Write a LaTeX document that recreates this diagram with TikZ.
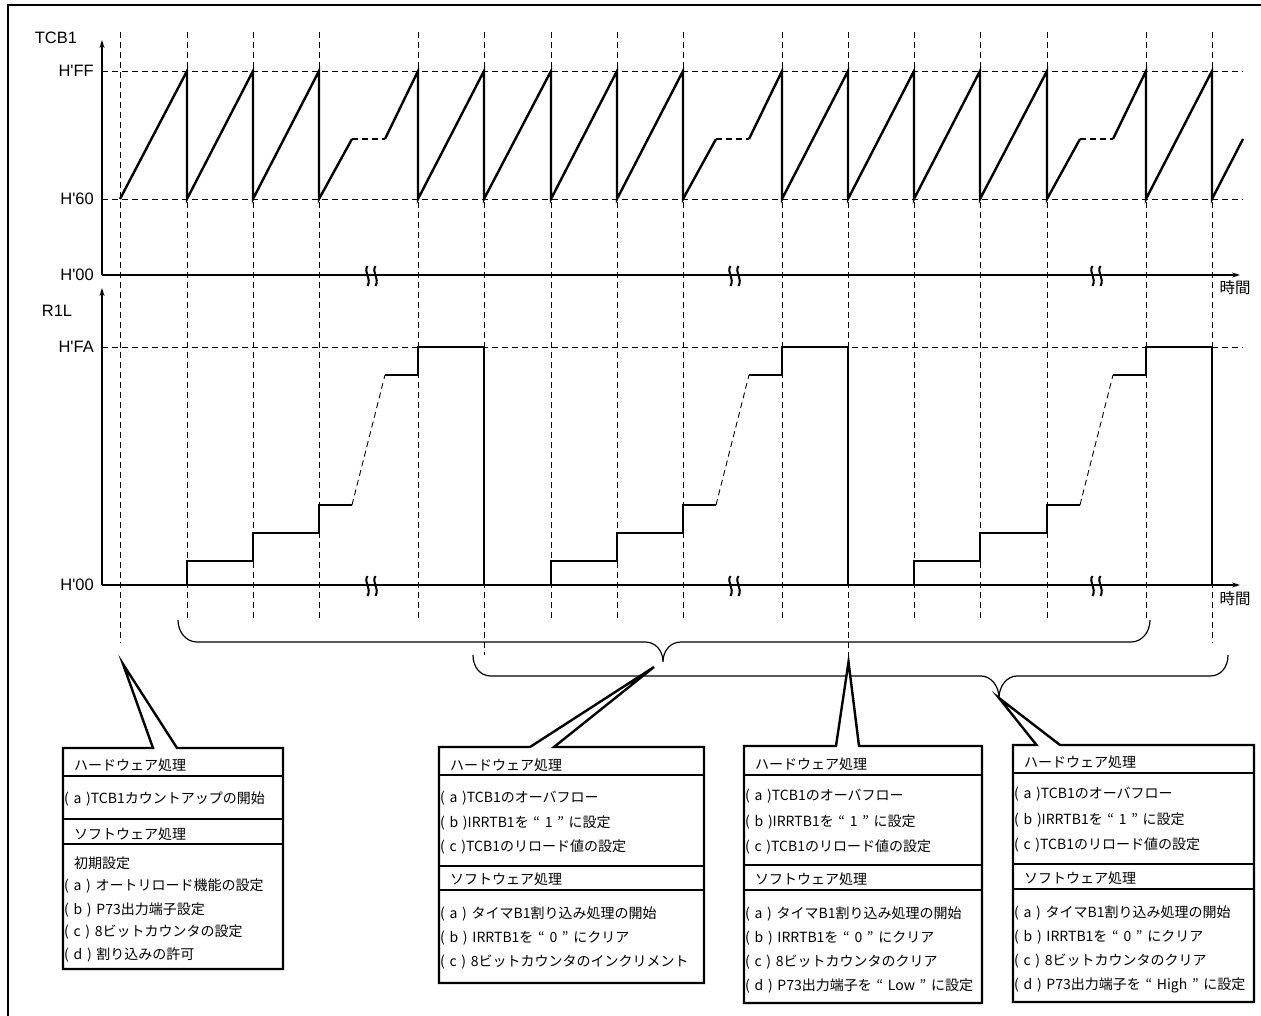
\documentclass[tikz,border=0pt]{standalone}
\usepackage{fontspec}
\setmainfont{Liberation Sans}
\newfontfamily\jp[WordSpace=1.5]{Noto Sans CJK JP}
\usetikzlibrary{arrows.meta}
\tikzset{
  guide/.style={line width=0.9pt, dash pattern=on 6pt off 4pt},
  wave/.style={line width=2.4pt, line join=miter},
  wavegap/.style={line width=1.3pt, dash pattern=on 6pt off 4pt},
  axisline/.style={line width=1.2pt},
  axisarrow/.style={axisline, -{Stealth[length=8pt,width=5pt]}},
  lab/.style={font=\fontsize{16.5}{19}\selectfont, inner sep=0pt},
  jlab/.style={font=\jp\fontsize{15.5}{18}\selectfont, inner sep=0pt},
  jtxt/.style={font=\jp\fontsize{14}{16}\selectfont, inner sep=0pt, anchor=west},
  callout/.style={line width=2.4pt, fill=white, line join=miter},
  rowline/.style={line width=2pt},
  bracestyle/.style={line width=1.2pt},
  brk/.style={line width=2pt},
}
\begin{document}
\begin{tikzpicture}[x=1pt,y=-1pt]
\useasboundingbox (0,0) rectangle (1261,1016);
% frame
\draw[line width=2pt] (7.5,1016) -- (7.5,5.5) -- (1261,5.5);

% vertical guide lines
\foreach \x/\b in {120/643,187/620,253/620,319/620,418/620,484/655,551/620,617/620,683/620,782/620,848/662,914/620,980/620,1047/620,1146/620,1212/643}
  \draw[guide] (\x,32) -- (\x,\b);

% horizontal guide lines
\foreach \y in {71,199,347}
  \draw[guide] (102,\y) -- (1243,\y);

% axes
\draw[axisarrow] (102,275) -- (102,40);
\draw[axisarrow] (102,275) -- (1240,275);
\draw[axisarrow] (102,585) -- (102,288);
\draw[axisarrow] (102,585) -- (1240,585);

% break marks
\foreach \y in {275,585}{
  \foreach \x in {372,735,1097}{
    \draw[brk] (\x-4.5,\y-9) .. controls (\x-9,\y-3) and (\x,\y+3) .. (\x-4.5,\y+11);
    \draw[brk] (\x+3.5,\y-9) .. controls (\x-1,\y-3) and (\x+8,\y+3) .. (\x+3.5,\y+11);
  }
}

% labels
\node[lab] (tcb) at (56,38) {TCB1};
\node[lab,anchor=east] (hff) at (94,71) {H\textquotesingle FF};
\node[lab,anchor=east] (h60) at (94,199) {H\textquotesingle 60};
\node[lab,anchor=east] (h00a) at (94,275) {H\textquotesingle 00};
\node[lab] (r1l) at (57,311) {R1L};
\node[lab,anchor=east] (hfa) at (94,347) {H\textquotesingle FA};
\node[lab,anchor=east] (h00b) at (94,585) {H\textquotesingle 00};
\node[jlab] (time1) at (1235,288) {時間};
\node[jlab] (time2) at (1235,599) {時間};

% TCB1 waveform
\draw[wave] (120,199) -- (187,71) -- (187,199) -- (253,71) -- (253,199) -- (319,71) -- (319,199) -- (352,139);
\draw[wavegap] (352,139) -- (385,139);
\draw[wave] (385,139) -- (418,71) -- (418,199) -- (484,71) -- (484,199) -- (551,71) -- (551,199) -- (617,71) -- (617,199) -- (683,71) -- (683,199) -- (716,139);
\draw[wavegap] (716,139) -- (749,139);
\draw[wave] (749,139) -- (782,71) -- (782,199) -- (848,71) -- (848,199) -- (914,71) -- (914,199) -- (980,71) -- (980,199) -- (1047,71) -- (1047,199) -- (1080,139);
\draw[wavegap] (1080,139) -- (1113,139);
\draw[wave] (1113,139) -- (1146,71) -- (1146,199) -- (1212,71) -- (1212,199) -- (1243,139);

% R1L waveform
\foreach \a/\b/\c/\d/\e/\f/\g in {187/253/319/352/385/418/484, 551/617/683/716/749/782/848, 914/980/1047/1080/1113/1146/1212}{
  \draw[wave] (\a,585) -- (\a,561) -- (\b,561) -- (\b,533) -- (\c,533) -- (\c,505) -- (\d,505);
  \draw[guide,line width=0.9pt] (\d,505) -- (\e,375);
  \draw[wave] (\e,375) -- (\f,375) -- (\f,347) -- (\g,347) -- (\g,585);
}

% braces
\draw[bracestyle] (178,620) .. controls (178,632) and (186,642) .. (197,642) -- (645,642)
  .. controls (655,642) and (663,650) .. (663,662) .. controls (663,650) and (671,642) .. (681,642)
  -- (1131,642) .. controls (1142,642) and (1150,632) .. (1150,620);
\draw[bracestyle] (473,655) .. controls (473,667) and (480,676) .. (491,676) -- (981,676)
  .. controls (991,676) and (999,686) .. (999,698) .. controls (999,686) and (1007,676) .. (1017,676)
  -- (1210,676) .. controls (1221,676) and (1228,667) .. (1228,655);

% callout tips
\coordinate (t1) at (123,664);
\coordinate (t2) at (654,667);
\coordinate (t3) at (848.5,662);
\coordinate (t4) at (999,698);

% Box 1
\draw[callout] (153,748) -- (t1) -- (177,748) -- (283,748) -- (283,969) -- (63,969) -- (63,748) -- cycle;
\draw[rowline] (63,776) -- (283,776);
\draw[rowline] (63,819) -- (283,819);
\draw[rowline] (63,844) -- (283,844);
\node[jtxt] (b1h) at (74,765.5) {ハードウェア処理};
\node[jtxt] (b1a) at (64,799) {( a )TCB1カウントアップの開始};
\node[jtxt] (b1s) at (74,834) {ソフトウェア処理};
\node[jtxt] (b1i) at (74,863) {初期設定};
\node[jtxt] (b1sa) at (64,886) {( a ) オートリロード機能の設定};
\node[jtxt] (b1sb) at (64,910) {( b ) P73出力端子設定};
\node[jtxt] (b1sc) at (64,932) {( c ) 8ビットカウンタの設定};
\node[jtxt] (b1sd) at (64,955) {( d ) 割り込みの許可};

% Box 2
\draw[callout] (530,747) -- (t2) -- (554,747) -- (704,747) -- (704,983) -- (439,983) -- (439,747) -- cycle;
\draw[rowline] (439,775) -- (704,775);
\draw[rowline] (439,866) -- (704,866);
\draw[rowline] (439,890) -- (704,890);
\node[jtxt] (b2h) at (450,765.5) {ハードウェア処理};
\node[jtxt] (b2a) at (440,798) {( a )TCB1のオーバフロー};
\node[jtxt] (b2b) at (440,823) {( b )IRRTB1を “ 1 ” に設定};
\node[jtxt] (b2c) at (440,847) {( c )TCB1のリロード値の設定};
\node[jtxt] (b2s) at (450,879) {ソフトウェア処理};
\node[jtxt] (b2sa) at (440,914) {( a ) タイマB1割り込み処理の開始};
\node[jtxt] (b2sb) at (440,938) {( b ) IRRTB1を “ 0 ” にクリア};
\node[jtxt] (b2sc) at (440,962) {( c ) 8ビットカウンタのインクリメント};

% Box 3
\draw[callout] (836,746) -- (t3) -- (859,746) -- (982,746) -- (982,1003) -- (744,1003) -- (744,746) -- cycle;
\draw[rowline] (744,775) -- (982,775);
\draw[rowline] (744,865) -- (982,865);
\draw[rowline] (744,890) -- (982,890);
\node[jtxt] (b3h) at (755,764) {ハードウェア処理};
\node[jtxt] (b3a) at (745,796) {( a )TCB1のオーバフロー};
\node[jtxt] (b3b) at (745,822) {( b )IRRTB1を “ 1 ” に設定};
\node[jtxt] (b3c) at (745,846.5) {( c )TCB1のリロード値の設定};
\node[jtxt] (b3s) at (755,879) {ソフトウェア処理};
\node[jtxt] (b3sa) at (745,914) {( a ) タイマB1割り込み処理の開始};
\node[jtxt] (b3sb) at (745,938.5) {( b ) IRRTB1を “ 0 ” にクリア};
\node[jtxt] (b3sc) at (745,962) {( c ) 8ビットカウンタのクリア};
\node[jtxt] (b3sd) at (745,986) {( d ) P73出力端子を “ Low ” に設定};

% Box 4
\draw[callout] (1036.5,745) -- (t4) -- (1060,745) -- (1254,745) -- (1254,1002) -- (1013,1002) -- (1013,745) -- cycle;
\draw[rowline] (1013,773) -- (1254,773);
\draw[rowline] (1013,863.5) -- (1254,863.5);
\draw[rowline] (1013,889) -- (1254,889);
\node[jtxt] (b4h) at (1024,762) {ハードウェア処理};
\node[jtxt] (b4a) at (1014,794.5) {( a )TCB1のオーバフロー};
\node[jtxt] (b4b) at (1014,820) {( b )IRRTB1を “ 1 ” に設定};
\node[jtxt] (b4c) at (1014,845) {( c )TCB1のリロード値の設定};
\node[jtxt] (b4s) at (1024,878) {ソフトウェア処理};
\node[jtxt] (b4sa) at (1014,913) {( a ) タイマB1割り込み処理の開始};
\node[jtxt] (b4sb) at (1014,937) {( b ) IRRTB1を “ 0 ” にクリア};
\node[jtxt] (b4sc) at (1014,961) {( c ) 8ビットカウンタのクリア};
\node[jtxt] (b4sd) at (1014,985) {( d ) P73出力端子を “ High ” に設定};
\end{tikzpicture}
\end{document}
